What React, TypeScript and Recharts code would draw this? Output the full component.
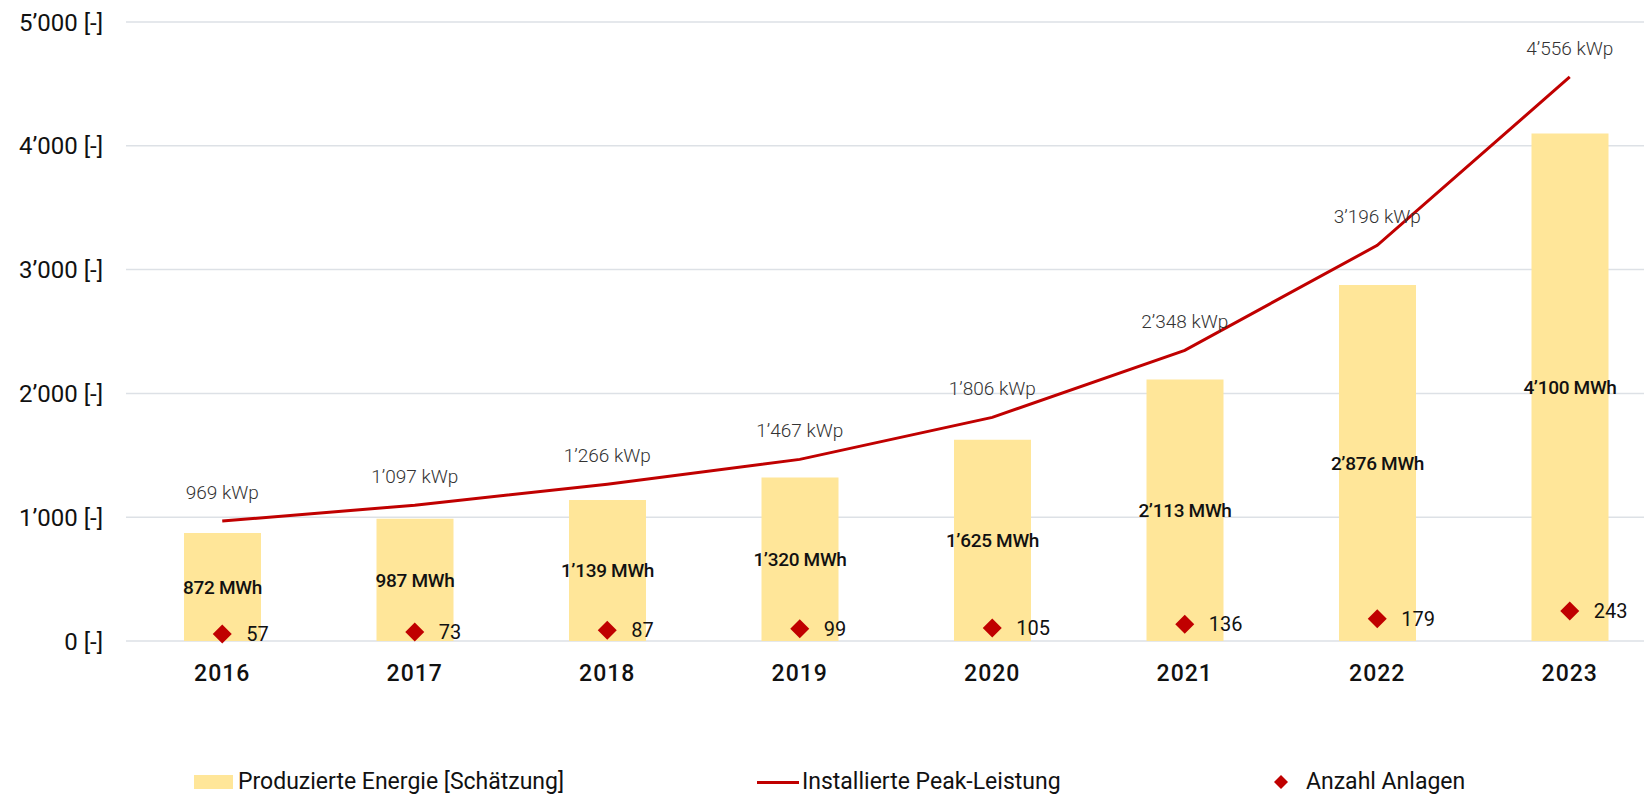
import {
  ComposedChart,
  Bar,
  Line,
  Scatter,
  XAxis,
  YAxis,
  CartesianGrid,
  LabelList
} from "recharts";

// values
const years = ['2016', '2017', '2018', '2019', '2020', '2021', '2022', '2023'];
const energyMWh = [872, 987, 1139, 1320, 1625, 2113, 2876, 4100];
const peakKWp = [969, 1097, 1266, 1467, 1806, 2348, 3196, 4556];
const anlagen = [57, 73, 87, 99, 105, 136, 179, 243];
const yTicks = [0, 1000, 2000, 3000, 4000, 5000];

const chartData = years.map((year, i) => ({
  year,
  energy: energyMWh[i],
  peak: peakKWp[i],
  anlagen: anlagen[i]
}));

const RED = '#C00000';
const YELLOW = '#FFE699';
const FONT = 'Roboto, "Noto Sans", sans-serif';

// Swiss style thousands separator
function fmt(v: number) {
  if (v < 1000) return String(v);
  return Math.floor(v / 1000) + '\u2019' + String(v % 1000).padStart(3, '0');
}

function Diamond(props: any) {
  const { cx, cy } = props;
  const r = 9.5;
  return (
    <polygon
      points={`${cx},${cy - r} ${cx + r},${cy} ${cx},${cy + r} ${cx - r},${cy}`}
      fill={RED}
    />
  );
}

function AnlagenLabel(props: any) {
  const { x, y, width, height, value } = props;
  const cx = Number(x) + Number(width) / 2;
  const cy = Number(y) + Number(height) / 2;
  return (
    <text x={cx + 24} y={cy} dy="0.36em" fontSize={20} fill="#111">
      {value}
    </text>
  );
}

// centred in the bar, no wrapping
function EnergyLabel(props: any) {
  const { x, y, width, height, value } = props;
  const cx = Number(x) + Number(width) / 2;
  const cy = Number(y) + Number(height) / 2;
  return (
    <text x={cx} y={cy} dy="0.36em" textAnchor="middle" fontSize={19} fontWeight={500} fill="#111" letterSpacing={-0.3}>
      {fmt(Number(value))} MWh
    </text>
  );
}

function ChartLegend() {
  const text = { position: 'absolute' as const, top: 768, fontSize: 23, color: '#111', lineHeight: '28px', whiteSpace: 'nowrap' as const };
  return (
    <>
      <div style={{ position: 'absolute', left: 194, top: 775, width: 39, height: 14, background: YELLOW }} />
      <div style={{ ...text, left: 238 }}>Produzierte Energie [Schätzung]</div>
      <div style={{ position: 'absolute', left: 757, top: 781, width: 42, height: 3, background: RED }} />
      <div style={{ ...text, left: 802 }}>Installierte Peak-Leistung</div>
      <svg style={{ position: 'absolute', left: 1274, top: 775 }} width={14} height={14}>
        <polygon points="7,0 14,7 7,14 0,7" fill={RED} />
      </svg>
      <div style={{ ...text, left: 1306 }}>Anzahl Anlagen</div>
    </>
  );
}

export default function App() {
  return (
    <div style={{ position: 'fixed', left: 0, top: 0, width: 1644, height: 796, overflow: 'hidden', background: '#fff', fontFamily: FONT }}>
      <ComposedChart
        width={1700}
        height={700}
        data={chartData}
        margin={{ top: 22, right: 34, left: 0, bottom: 0 }}
      >
        <CartesianGrid vertical={false} stroke="#DDE1E6" strokeWidth={1.5} />
        <XAxis
          dataKey="year"
          axisLine={false}
          tickLine={false}
          tickSize={0}
          tickMargin={24}
          height={59}
          tick={{ fontSize: 23, fontWeight: 500, fill: '#111', letterSpacing: 1 }}
        />
        <YAxis
          domain={[0, 5000]}
          ticks={yTicks}
          width={126}
          axisLine={false}
          tickLine={false}
          tickSize={0}
          tickMargin={23}
          tickFormatter={(v: number) => `${fmt(v)} [-]`}
          tick={{ fontSize: 24, fill: '#111' }}
        />
        <Bar dataKey="energy" fill={YELLOW} barSize={77} isAnimationActive={false}>
          <LabelList dataKey="energy" content={<EnergyLabel />} />
        </Bar>
        <Line
          type="linear"
          dataKey="peak"
          stroke={RED}
          strokeWidth={3}
          dot={false}
          activeDot={false}
          isAnimationActive={false}
        >
          <LabelList
            dataKey="peak"
            position="top"
            offset={22}
            formatter={(v: any) => `${fmt(Number(v))} kWp`}
            style={{ fontSize: 19, fontWeight: 300, fill: '#333' }}
          />
        </Line>
        <Scatter dataKey="anlagen" shape={<Diamond />} isAnimationActive={false}>
          <LabelList dataKey="anlagen" content={<AnlagenLabel />} />
        </Scatter>
      </ComposedChart>
      <ChartLegend />
    </div>
  );
}
